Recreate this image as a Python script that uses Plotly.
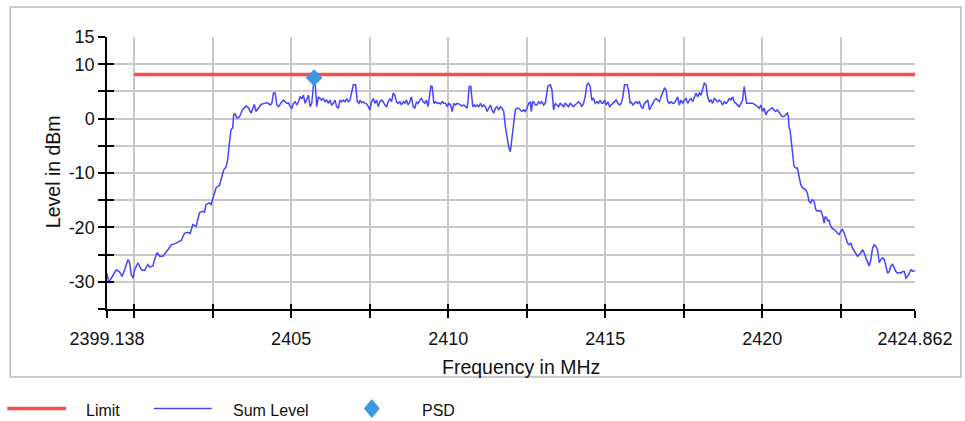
import plotly.graph_objects as go

# Measured spectrum: frequency (MHz) and summed level (dBm)
freq_mhz = [
    2399.138, 2399.192, 2399.277, 2399.435, 2399.541, 2399.615, 2399.700, 2399.806,
    2399.859, 2399.912, 2399.965, 2400.018, 2400.124, 2400.229, 2400.335, 2400.441,
    2400.494, 2400.600, 2400.653, 2400.737, 2400.811, 2400.917, 2401.076, 2401.182,
    2401.341, 2401.500, 2401.605, 2401.711, 2401.785, 2401.870, 2401.976, 2402.082,
    2402.188, 2402.241, 2402.293, 2402.399, 2402.452, 2402.505, 2402.558, 2402.611,
    2402.717, 2402.791, 2402.855, 2402.929, 2402.982, 2403.034, 2403.087, 2403.140,
    2403.172, 2403.214, 2403.278, 2403.352, 2403.458, 2403.564, 2403.638, 2403.722,
    2403.775, 2403.828, 2403.881, 2403.955, 2404.040, 2404.145,
    2404.227, 2404.280, 2404.333, 2404.386, 2404.439, 2404.492, 2404.545, 2404.598,
    2404.651, 2404.704, 2404.757, 2404.809, 2404.862, 2404.915, 2404.968, 2405.021,
    2405.074, 2405.127, 2405.180, 2405.233, 2405.286, 2405.339, 2405.392, 2405.445,
    2405.497, 2405.550, 2405.603, 2405.656, 2405.688, 2405.730, 2405.773, 2405.815,
    2405.868, 2405.921, 2405.974, 2406.027, 2406.080, 2406.133, 2406.186, 2406.238,
    2406.291, 2406.344, 2406.397, 2406.450, 2406.503, 2406.556, 2406.609, 2406.662,
    2406.715, 2406.768, 2406.821, 2406.874, 2406.926, 2406.979, 2407.053, 2407.106,
    2407.159, 2407.191, 2407.244, 2407.297, 2407.350, 2407.403, 2407.456, 2407.509,
    2407.562, 2407.614, 2407.667, 2407.720, 2407.773, 2407.826, 2407.879, 2407.932,
    2407.985, 2408.038, 2408.091, 2408.144, 2408.197, 2408.250, 2408.302, 2408.355,
    2408.408, 2408.461, 2408.514, 2408.567, 2408.620, 2408.673, 2408.726, 2408.779,
    2408.832, 2408.885, 2408.938, 2408.991, 2409.043, 2409.096, 2409.149, 2409.202,
    2409.255, 2409.308, 2409.361, 2409.414, 2409.450, 2409.490,
    2409.545, 2409.598, 2409.651, 2409.704, 2409.757, 2409.809, 2409.862, 2409.915,
    2409.968, 2410.021, 2410.074, 2410.127, 2410.180, 2410.233, 2410.286, 2410.339,
    2410.392, 2410.445, 2410.497, 2410.550, 2410.603, 2410.635, 2410.667, 2410.720,
    2410.752, 2410.783, 2410.836, 2410.868, 2410.921, 2410.974, 2411.027, 2411.080,
    2411.133, 2411.186, 2411.238, 2411.291, 2411.344, 2411.397, 2411.450, 2411.503,
    2411.556, 2411.609, 2411.662, 2411.715, 2411.768, 2411.821, 2411.874, 2411.926,
    2411.979, 2412.032, 2412.085, 2412.138, 2412.191, 2412.244, 2412.297, 2412.350,
    2412.403, 2412.456, 2412.509, 2412.562, 2412.615, 2412.646, 2412.689, 2412.720,
    2412.773, 2412.826, 2412.879, 2412.932, 2412.985, 2413.038, 2413.091, 2413.144,
    2413.176, 2413.250, 2413.303, 2413.356, 2413.408, 2413.461, 2413.514, 2413.567,
    2413.620, 2413.673, 2413.726, 2413.779, 2413.832, 2413.885, 2413.938, 2413.991,
    2414.043, 2414.096, 2414.149, 2414.202, 2414.255, 2414.308, 2414.361, 2414.414,
    2414.467, 2414.520, 2414.573, 2414.626, 2414.679, 2414.731, 2414.784, 2414.837,
    2414.890,
    2414.926, 2414.979, 2415.032, 2415.085, 2415.138, 2415.191, 2415.243, 2415.296,
    2415.349, 2415.402, 2415.455, 2415.508, 2415.561, 2415.614, 2415.699, 2415.741,
    2415.794, 2415.826, 2415.879, 2415.931, 2415.984, 2416.037, 2416.090, 2416.143,
    2416.196, 2416.249, 2416.302, 2416.355, 2416.408, 2416.461, 2416.514, 2416.567,
    2416.620, 2416.672, 2416.725, 2416.778, 2416.831, 2416.884, 2416.937, 2416.990,
    2417.043, 2417.096, 2417.149, 2417.202, 2417.255, 2417.308, 2417.361, 2417.413,
    2417.466, 2417.519, 2417.572, 2417.625, 2417.678, 2417.731, 2417.784, 2417.837,
    2417.890, 2417.943, 2417.996, 2418.049, 2418.102, 2418.154, 2418.207, 2418.260,
    2418.313, 2418.366, 2418.419, 2418.472, 2418.525, 2418.578, 2418.631, 2418.684,
    2418.737, 2418.790, 2418.843, 2418.896, 2418.949, 2419.001, 2419.054, 2419.107,
    2419.160, 2419.213, 2419.266, 2419.319, 2419.372, 2419.425, 2419.457, 2419.499,
    2419.584, 2419.690, 2419.795, 2419.848, 2419.901, 2419.954, 2420.007, 2420.060,
    2420.113, 2420.165, 2420.218, 2420.271,
    2420.319, 2420.372, 2420.426, 2420.479, 2420.532, 2420.585, 2420.638, 2420.691,
    2420.745, 2420.798, 2420.830, 2420.851, 2420.883, 2420.915, 2420.957, 2421.011,
    2421.064, 2421.117, 2421.170, 2421.223, 2421.277, 2421.330, 2421.383, 2421.436,
    2421.489, 2421.543, 2421.596, 2421.649, 2421.702, 2421.755, 2421.809, 2421.862,
    2421.915, 2421.968, 2422.000, 2422.053, 2422.096, 2422.128, 2422.160, 2422.213,
    2422.287, 2422.340, 2422.394, 2422.447, 2422.500, 2422.553, 2422.606, 2422.660,
    2422.713, 2422.766, 2422.819, 2422.872, 2422.926, 2422.979, 2423.032, 2423.085,
    2423.138, 2423.191, 2423.245, 2423.298, 2423.351, 2423.404, 2423.457, 2423.511,
    2423.564, 2423.617, 2423.670, 2423.723, 2423.777, 2423.830, 2423.883, 2423.936,
    2423.989, 2424.043, 2424.096, 2424.149, 2424.202, 2424.255, 2424.309, 2424.362,
    2424.415, 2424.468, 2424.521, 2424.574, 2424.628, 2424.681, 2424.734, 2424.787,
    2424.862,
]

sum_level_dbm = [
    -28.4, -30.1, -29.3, -27.8, -28.2, -29.0, -27.8, -25.9,
    -26.5, -28.7, -29.3, -27.8, -26.5, -27.8, -27.9, -26.8,
    -27.3, -27.1, -25.9, -24.6, -25.3, -25.3, -24.1, -23.2,
    -22.9, -22.4, -21.1, -20.9, -21.1, -19.5, -19.8, -17.3,
    -17.0, -17.2, -15.8, -15.5, -15.8, -14.9, -13.7, -12.7,
    -12.3, -10.9, -9.4, -8.9, -7.5, -4.5, -2.0, -1.7,
    0.7, 0.9, 0.1, 0.3, 1.7, 2.3, 2.0, 1.0,
    2.0, 2.6, 1.3, 2.0, 2.6, 2.8,
    2.9, 2.8, 2.5, 2.8, 4.7, 4.7, 2.5, 2.2,
    2.8, 3.1, 3.4, 3.1, 2.8, 2.9, 2.2, 1.9,
    2.8, 3.1, 2.5, 3.1, 4.0, 3.7, 4.3, 2.8,
    3.7, 4.3, 2.2, 2.8, 4.7, 7.5, 5.9, 2.2,
    4.0, 3.7, 3.4, 3.7, 3.1, 3.4, 2.8, 3.4,
    2.5, 2.8, 3.4, 2.2, 1.9, 3.4, 3.1, 3.4,
    3.1, 3.7, 3.1, 3.4, 4.7, 6.2, 6.2, 3.1,
    2.8, 3.4, 2.9, 3.1, 2.8, 2.7, 2.2, 1.6,
    3.1, 3.7, 2.8, 3.4, 2.2, 3.1, 3.4, 3.1,
    2.5, 2.2, 3.1, 3.7, 3.1, 4.7, 4.3, 3.1,
    2.8, 3.1, 2.5, 3.1, 2.8, 3.4, 2.5, 3.1,
    4.0, 2.2, 1.9, 3.1, 2.8, 3.4, 3.7, 3.1,
    2.8, 3.4, 2.2, 5.0, 6.0, 5.9,
    2.8, 3.1, 2.8, 2.9, 2.7, 3.1, 2.8, 2.8,
    2.2, 2.8, 2.5, 1.3, 2.8, 2.5, 2.8, 2.7,
    2.5, 2.3, 2.5, 2.2, 1.9, 3.4, 5.9, 5.9,
    4.0, 2.2, 2.5, 2.2, 2.5, 2.2, 2.8, 2.2,
    2.5, 2.2, 1.3, 1.9, 2.5, 1.6, 1.0, 1.9,
    2.2, 1.6, 2.2, 1.9, 1.3, -1.5, -3.9, -5.2,
    -6.1, -3.9, -0.9, 1.6, 1.9, 1.9, 1.6, 1.3,
    1.6, 1.3, 1.9, 2.8, 3.1, 1.3, 3.1, 3.1,
    2.5, 2.5, 3.1, 2.8, 3.1, 2.5, 2.8, 4.7,
    6.0, 6.2, 5.3, 1.6, 2.8, 2.5, 2.2, 2.8,
    2.5, 2.2, 2.8, 2.5, 2.2, 2.8, 2.5, 2.2,
    2.5, 2.8, 3.1, 2.8, 2.2, 2.8, 4.0, 6.2,
    6.5, 5.9, 3.4, 3.7, 2.8, 3.1, 2.8, 3.4,
    2.8,
    2.8, 3.4, 2.5, 3.1, 2.2, 2.5, 2.8, 3.1,
    3.4, 2.8, 2.5, 2.8, 4.0, 6.2, 6.2, 5.3,
    2.8, 3.1, 2.5, 2.8, 3.1, 2.8, 3.1, 2.2,
    1.9, 2.8, 3.1, 3.4, 1.6, 2.2, 3.1, 3.4,
    3.7, 3.4, 3.1, 4.0, 5.0, 5.6, 5.3, 3.1,
    2.8, 3.1, 2.8, 2.9, 3.4, 4.0, 2.5, 3.4,
    2.8, 3.4, 3.7, 2.8, 3.4, 3.7, 3.1, 4.0,
    4.7, 4.0, 4.7, 4.3, 5.6, 6.5, 6.2, 4.0,
    3.1, 3.4, 2.8, 3.7, 3.4, 3.1, 3.4, 3.1,
    2.5, 3.1, 2.8, 3.1, 3.7, 3.4, 4.0, 3.1,
    2.8, 2.5, 2.2, 2.8, 3.4, 5.9, 4.0, 2.8,
    2.8, 2.8, 2.5, 2.2, 1.9, 2.5, 1.3, 1.9,
    0.7, 1.3, 1.6, 1.9,
    2.0, 1.6, 1.3, 1.6, 1.0, 0.7, 0.4, 0.4,
    0.7, 1.0, 0.4, -1.7, -2.0, -3.9, -6.9, -8.8,
    -9.1, -9.1, -10.6, -12.1, -12.7, -12.9, -13.1, -13.7,
    -15.2, -15.5, -14.9, -15.2, -16.7, -17.0, -17.0, -16.9,
    -17.7, -19.2, -18.0, -18.3, -18.9, -18.6, -19.5, -20.1,
    -20.4, -20.7, -21.0, -21.3, -20.7, -20.4, -21.0, -21.9,
    -22.9, -23.2, -22.9, -23.8, -24.4, -25.0, -25.3, -25.0,
    -24.7, -24.1, -24.7, -25.6, -26.5, -27.1, -25.9, -23.8,
    -23.2, -23.5, -24.1, -26.5, -25.9, -25.6, -25.9, -27.5,
    -28.4, -28.1, -27.1, -26.8, -27.5, -28.1, -28.4, -28.3,
    -28.4, -28.1, -28.1, -29.3, -29.0, -28.4, -27.8, -28.1,
    -27.9,
]

# Limit line and the PSD reading
limit_freq_mhz = [2400.0, 2424.862]
limit_dbm = [8.1, 8.1]
psd_freq_mhz = [2405.73]
psd_dbm = [7.5]

# Axis ticks
x_range = [2399.138, 2424.862]
x_tickvals = [2399.138, 2400, 2402.5, 2405, 2407.5, 2410, 2412.5, 2415,
              2417.5, 2420, 2422.5, 2424.862]
x_ticktext = ["2399.138", "", "", "2405", "", "2410", "", "2415",
              "", "2420", "", "2424.862"]
y_range = [-35, 15]
y_tickvals = [-35, -30, -25, -20, -15, -10, -5, 0, 5, 10, 15]
y_ticktext = ["", "-30", "", "-20", "", "-10", "", "0", "", "10", "15"]

FONT = "Liberation Sans, Arial, Helvetica, sans-serif"
GRID = "#c8c8c8"
LIMIT_COLOR = "#ff4b4b"
SUM_COLOR = "#4545ff"
PSD_COLOR = "#3c9ae0"

# Plot-area geometry in pixels, used to place the frame and legend keys
W, H = 965, 421
L, R, T, B = 107, 48, 37, 112
PW, PH = W - L - R, H - T - B


def px(x):
    return (x - L) / PW


def py(y):
    return (H - B - y) / PH


fig = go.Figure()
fig.add_trace(go.Scatter(
    x=limit_freq_mhz, y=limit_dbm, mode="lines", name="Limit",
    line=dict(color=LIMIT_COLOR, width=3.5),
))
fig.add_trace(go.Scatter(
    x=freq_mhz, y=sum_level_dbm, mode="lines", name="Sum Level",
    line=dict(color=SUM_COLOR, width=1.5),
))
fig.add_trace(go.Scatter(
    x=psd_freq_mhz, y=psd_dbm, mode="markers", name="PSD",
    marker=dict(symbol="diamond", size=13, color=PSD_COLOR),
))
# carrier for the inner half of the crossing tick marks
fig.add_trace(go.Scatter(
    x=[], y=[], xaxis="x2", yaxis="y2", showlegend=False, hoverinfo="skip",
))

common_axis = dict(
    showline=True, linecolor="black", linewidth=1.5,
    ticks="outside", ticklen=7, tickwidth=1.5, tickcolor="black",
    showgrid=True, gridcolor=GRID, gridwidth=1.5, zeroline=False,
    tickmode="array", tickfont=dict(size=18, color="#111111", family=FONT),
)

# Legend row below the chart
legend_y = 408.5
shapes = [
    dict(type="rect", xref="paper", yref="paper",
         x0=px(10), x1=px(963), y0=py(377), y1=py(7),
         line=dict(color="#b9b9b9", width=1.5), fillcolor="rgba(0,0,0,0)",
         layer="below"),
    dict(type="line", xref="paper", yref="paper",
         x0=px(7), x1=px(66), y0=py(legend_y), y1=py(legend_y),
         line=dict(color=LIMIT_COLOR, width=3.5)),
    dict(type="line", xref="paper", yref="paper",
         x0=px(154), x1=px(212), y0=py(legend_y), y1=py(legend_y),
         line=dict(color=SUM_COLOR, width=1.5)),
    dict(type="path", xref="paper", yref="paper",
         path=(f"M {px(372.5)} {py(399)} L {px(380.5)} {py(legend_y)} "
               f"L {px(372.5)} {py(418)} L {px(364.5)} {py(legend_y)} Z"),
         line=dict(width=0), fillcolor=PSD_COLOR),
]

legend_text = [("Limit", 84), ("Sum Level", 231), ("PSD", 421)]
annotations = [
    dict(text=t, xref="paper", yref="paper", x=px(x0), y=py(410.5),
         xanchor="left", yanchor="middle", showarrow=False,
         font=dict(size=16, family=FONT, color="#111111"))
    for t, x0 in legend_text
]
annotations += [
    dict(text="Frequency in MHz", xref="paper", yref="paper",
         x=px(522), y=py(366.5), xanchor="center", yanchor="middle",
         showarrow=False, font=dict(size=19.5, family=FONT, color="#111111")),
    dict(text="Level in dBm", xref="paper", yref="paper",
         x=px(53), y=py(172), xanchor="center", yanchor="middle",
         textangle=-90, showarrow=False,
         font=dict(size=19.5, family=FONT, color="#111111")),
]

fig.update_layout(
    width=W, height=H,
    margin=dict(l=L, r=R, t=T, b=B),
    paper_bgcolor="white", plot_bgcolor="white",
    font=dict(family=FONT, color="#111111"),
    xaxis=dict(range=x_range, tickvals=x_tickvals, ticktext=x_ticktext,
               ticklabelstandoff=6, **common_axis),
    yaxis=dict(range=y_range, tickvals=y_tickvals, ticktext=y_ticktext,
               **common_axis),
    xaxis2=dict(
        overlaying="x", anchor="y", side="bottom", range=x_range,
        tickmode="array", tickvals=x_tickvals, ticks="inside", ticklen=5,
        tickwidth=1.5, tickcolor="black", showticklabels=False,
        showgrid=False, zeroline=False, showline=False,
    ),
    yaxis2=dict(
        overlaying="y", anchor="x", side="left", range=y_range,
        tickmode="array", tickvals=y_tickvals, ticks="inside", ticklen=7,
        tickwidth=1.5, tickcolor="black", showticklabels=False,
        showgrid=False, zeroline=False, showline=False,
    ),
    shapes=shapes,
    annotations=annotations,
    showlegend=False,
)

fig.write_html("out.html")
